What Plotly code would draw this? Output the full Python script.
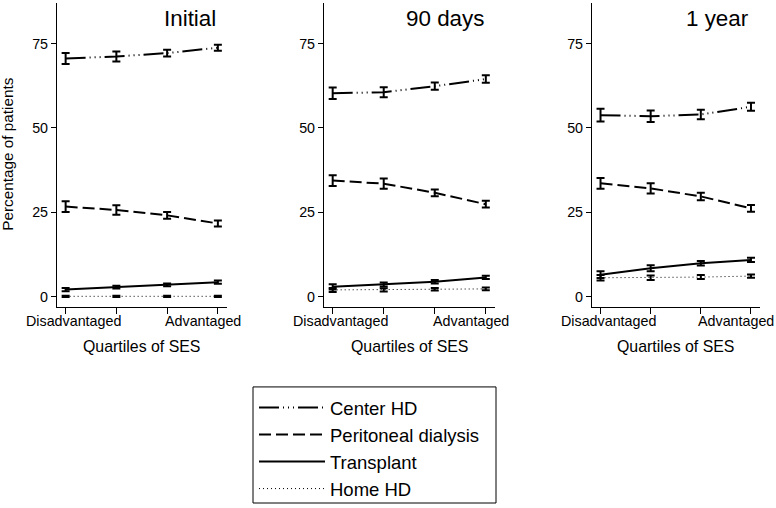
import plotly.graph_objects as go

quartiles = [1, 2, 3, 4]
panel_titles = ["Initial", "90 days", "1 year"]
series_names = ["Center HD", "Peritoneal dialysis", "Transplant", "Home HD"]

# values per panel (Initial, 90 days, 1 year)
center_hd = [[70.6, 71.2, 72.2, 73.8], [60.3, 60.6, 62.4, 64.5], [53.8, 53.5, 54.0, 56.3]]
center_hd_err = [[1.6, 1.5, 1.0, 0.9], [1.7, 1.5, 1.1, 1.1], [1.9, 1.7, 1.4, 1.2]]
pd_vals = [[26.7, 25.7, 24.1, 21.7], [34.4, 33.5, 30.8, 27.4], [33.6, 32.1, 29.7, 26.2]]
pd_err = [[1.6, 1.4, 1.0, 0.9], [1.6, 1.5, 1.0, 1.0], [1.6, 1.5, 1.1, 1.0]]
tx_vals = [[2.1, 2.8, 3.5, 4.3], [2.9, 3.6, 4.4, 5.7], [6.5, 8.4, 9.9, 10.9]]
tx_err = [[0.5, 0.4, 0.4, 0.5], [0.8, 0.6, 0.5, 0.5], [1.0, 0.9, 0.7, 0.6]]
home_vals = [[0.1, 0.1, 0.1, 0.1], [2.0, 2.0, 2.2, 2.3], [5.6, 5.6, 5.8, 6.1]]
home_err = [[0.2, 0.2, 0.2, 0.2], [0.6, 0.5, 0.4, 0.4], [0.8, 0.7, 0.6, 0.5]]

y_ticks = [0, 25, 50, 75]
x_label_left = "Disadvantaged"
x_label_right = "Advantaged"
x_title = "Quartiles of SES"
y_title = "Percentage of patients"

FONT = "Liberation Sans, Arial, Helvetica, sans-serif"
W, H = 776, 508

styles = [
    dict(dash="20px,4px,1px,4px,1px,4px,1px,4px", width=2),
    dict(dash="12px,5px", width=2),
    dict(dash="solid", width=2),
    dict(dash="1px,3px", width=1),
]
all_vals = [center_hd, pd_vals, tx_vals, home_vals]
all_err = [center_hd_err, pd_err, tx_err, home_err]

fig = go.Figure()
for p in range(3):
    xa = "x" if p == 0 else f"x{p+1}"
    ya = "y" if p == 0 else f"y{p+1}"
    for s in range(4):
        fig.add_trace(go.Scatter(
            x=quartiles, y=all_vals[s][p], mode="lines",
            name=series_names[s], legendgroup=series_names[s],
            showlegend=(p == 0),
            line=dict(color="black", width=styles[s]["width"], dash=styles[s]["dash"]),
            error_y=dict(type="data", array=all_err[s][p], visible=True,
                         color="black", thickness=2, width=4),
            xaxis=xa, yaxis=ya,
        ))

px_domains = [(57, 227), (324, 495), (592, 760)]
y_dom = [1 - 309 / H, 1 - 3 / H]
TICK_FS = 14.3
layout = dict(
    width=W, height=H, margin=dict(l=0, r=0, t=0, b=0),
    paper_bgcolor="white", plot_bgcolor="white",
    font=dict(family=FONT, color="black", size=TICK_FS),
    legend=dict(x=254 / W, y=1 - 392 / H, xanchor="left", yanchor="top",
                borderwidth=0, bgcolor="rgba(0,0,0,0)",
                font=dict(size=18.5, family=FONT), itemwidth=66,
                tracegroupgap=0),
    shapes=[dict(type="rect", xref="paper", yref="paper",
                 x0=253 / W, x1=496 / W, y0=1 - 507 / H, y1=1 - 390 / H,
                 line=dict(color="black", width=1), fillcolor="rgba(0,0,0,0)",
                 layer="below")],
)
annotations = []
for p in range(3):
    sx = "" if p == 0 else str(p + 1)
    layout[f"xaxis{sx}"] = dict(
        domain=[px_domains[p][0] / W, px_domains[p][1] / W],
        range=[0.83, 4.18], anchor=f"y{sx}",
        showline=True, linecolor="black", linewidth=1.2,
        ticks="outside", ticklen=6, tickcolor="black", tickwidth=1.2,
        tickvals=quartiles, showticklabels=False, showgrid=False, zeroline=False,
    )
    layout[f"yaxis{sx}"] = dict(
        domain=y_dom, range=[-2.94, 87.06], anchor=f"x{sx}",
        showline=True, linecolor="black", linewidth=1.2,
        ticks="outside", ticklen=5, tickcolor="black", tickwidth=1.2,
        tickvals=y_ticks, showgrid=False, zeroline=False,
        tickfont=dict(size=TICK_FS),
    )
    xr = f"x{sx}"
    annotations += [
        dict(text=panel_titles[p], xref=xr, yref="paper", x=4.0, y=1 - 19 / H,
             xanchor="right", yanchor="middle", showarrow=False,
             font=dict(size=22.4)),
        dict(text=x_label_left, xref=xr, yref="paper", x=1.15, y=1 - 324 / H,
             xanchor="center", yanchor="middle", showarrow=False,
             font=dict(size=TICK_FS)),
        dict(text=x_label_right, xref=xr, yref="paper", x=3.70, y=1 - 324 / H,
             xanchor="center", yanchor="middle", showarrow=False,
             font=dict(size=TICK_FS)),
        dict(text=x_title, xref=xr, yref="paper", x=2.5, y=1 - 349 / H,
             xanchor="center", yanchor="middle", showarrow=False,
             font=dict(size=15.9)),
    ]
annotations.append(dict(text=y_title, xref="paper", yref="paper", x=8 / W, y=1 - 156 / H,
                        xanchor="center", yanchor="middle", textangle=-90,
                        showarrow=False, font=dict(size=15.3)))
layout["annotations"] = annotations
fig.update_layout(**layout)
fig.write_html("out.html", config={"displayModeBar": False},
               post_script="document.body.style.margin='0';document.body.style.overflow='hidden';")
